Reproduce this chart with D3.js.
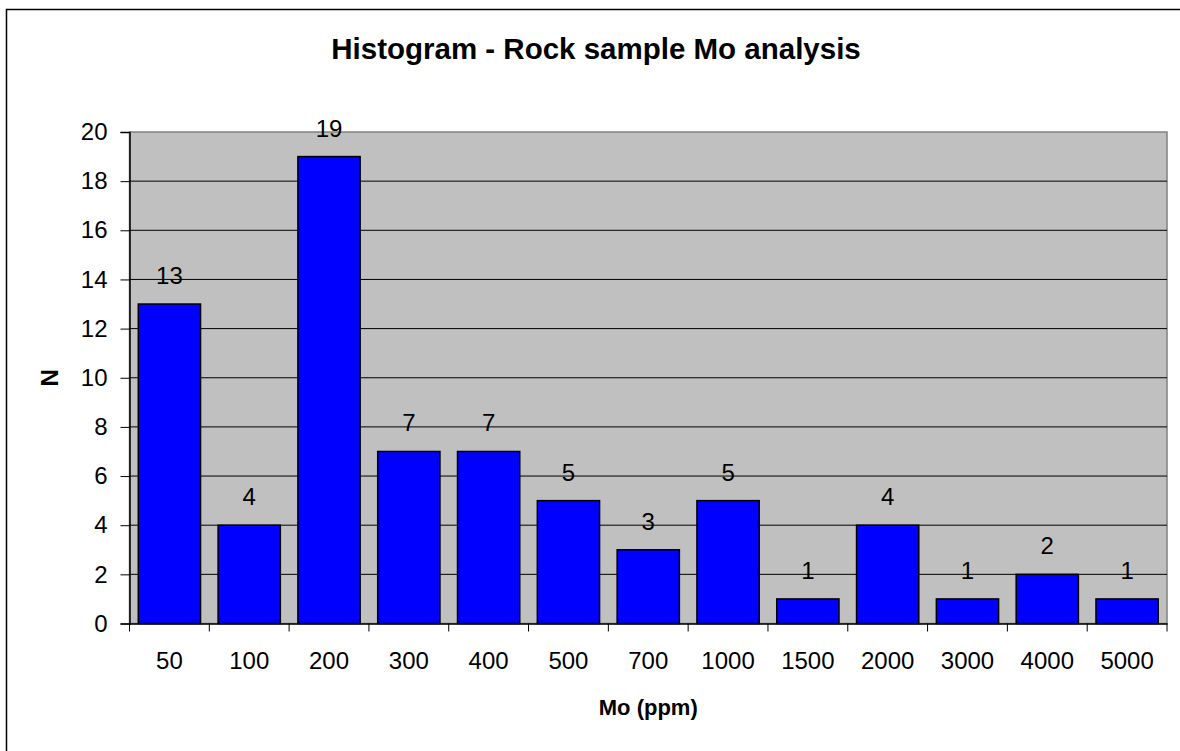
<!DOCTYPE html>
<html>
<head>
<meta charset="utf-8">
<script src="https://cdn.jsdelivr.net/npm/d3@7"></script>
<style>
  body { margin: 0; background: #fff; }
  svg { display: block; font-family: "Liberation Sans", Arial, sans-serif; }
</style>
</head>
<body>
<script>
// data
var categories = ["50", "100", "200", "300", "400", "500", "700", "1000", "1500", "2000", "3000", "4000", "5000"];
var counts = [13, 4, 19, 7, 7, 5, 3, 5, 1, 4, 1, 2, 1];
var yTicks = [0, 2, 4, 6, 8, 10, 12, 14, 16, 18, 20];

var width = 1180, height = 751;
var margin = { top: 132, right: 13, bottom: 127.5, left: 129.5 };
var w = width - margin.left - margin.right;
var h = height - margin.top - margin.bottom;

var svg = d3.select("body").append("svg")
    .attr("width", width)
    .attr("height", height);

// outer chart frame
svg.append("rect")
    .attr("x", 6.5).attr("y", 9.5)
    .attr("width", 1200).attr("height", 800)
    .attr("fill", "#fff")
    .attr("stroke", "#000")
    .attr("stroke-width", 1.5);

svg.append("text")
    .attr("x", 596).attr("y", 59)
    .attr("text-anchor", "middle")
    .attr("font-size", 29.5)
    .attr("font-weight", "bold")
    .text("Histogram - Rock sample Mo analysis");

var g = svg.append("g")
    .attr("transform", "translate(" + margin.left + "," + margin.top + ")");

var x = d3.scaleBand().domain(categories).range([0, w])
    .paddingInner(0.22).paddingOuter(0.11);
var y = d3.scaleLinear().domain([0, 20]).range([h, 0]);

// plot area
g.append("rect")
    .attr("width", w).attr("height", h)
    .attr("fill", "#c0c0c0")
    .attr("stroke", "#808080")
    .attr("stroke-width", 1.5);

// gridlines
g.selectAll(".grid")
    .data(yTicks.filter(function (d) { return d > 0 && d < 20; }))
    .enter().append("line")
    .attr("class", "grid")
    .attr("x1", 0).attr("x2", w)
    .attr("y1", function (d) { return y(d); })
    .attr("y2", function (d) { return y(d); })
    .attr("stroke", "#000")
    .attr("stroke-width", 1);

// bars
g.selectAll(".bar")
    .data(counts)
    .enter().append("rect")
    .attr("class", "bar")
    .attr("x", function (d, i) { return x(categories[i]); })
    .attr("y", function (d) { return y(d); })
    .attr("width", x.bandwidth())
    .attr("height", function (d) { return h - y(d); })
    .attr("fill", "#0000ff")
    .attr("stroke", "#000")
    .attr("stroke-width", 1.5);

// value labels
g.selectAll(".label")
    .data(counts)
    .enter().append("text")
    .attr("class", "label")
    .attr("x", function (d, i) { return x(categories[i]) + x.bandwidth() / 2; })
    .attr("y", function (d) { return y(d) - 20; })
    .attr("text-anchor", "middle")
    .attr("font-size", 24)
    .text(function (d) { return d; });

// y axis
var yAxis = g.append("g")
    .call(d3.axisLeft(y).tickValues(yTicks).tickSize(9).tickPadding(13))
    .attr("font-family", null).attr("font-size", 24);
yAxis.selectAll("text").attr("fill", "#000");
yAxis.selectAll("line").attr("stroke", "#000");
yAxis.select(".domain").attr("stroke", "#000").attr("stroke-width", 1.5);

// x axis: labels at band centres, ticks between bands
var xAxis = g.append("g")
    .attr("transform", "translate(0," + h + ")")
    .call(d3.axisBottom(x).tickSize(0).tickPadding(28))
    .attr("font-family", null).attr("font-size", 24);
xAxis.selectAll("text").attr("fill", "#000");
xAxis.select(".domain").attr("stroke", "#000").attr("stroke-width", 1.5);

var step = x.step();
xAxis.selectAll(".sep")
    .data(d3.range(categories.length + 1))
    .enter().append("line")
    .attr("class", "sep")
    .attr("x1", function (i) { return i * step; })
    .attr("x2", function (i) { return i * step; })
    .attr("y1", 0).attr("y2", 8)
    .attr("stroke", "#000");

// axis titles
svg.append("text")
    .attr("x", margin.left + w / 2).attr("y", 715)
    .attr("text-anchor", "middle")
    .attr("font-size", 22)
    .attr("font-weight", "bold")
    .text("Mo (ppm)");

svg.append("text")
    .attr("transform", "translate(58," + (margin.top + h / 2) + ") rotate(-90)")
    .attr("text-anchor", "middle")
    .attr("font-size", 24)
    .attr("font-weight", "bold")
    .text("N");
</script>
</body>
</html>
